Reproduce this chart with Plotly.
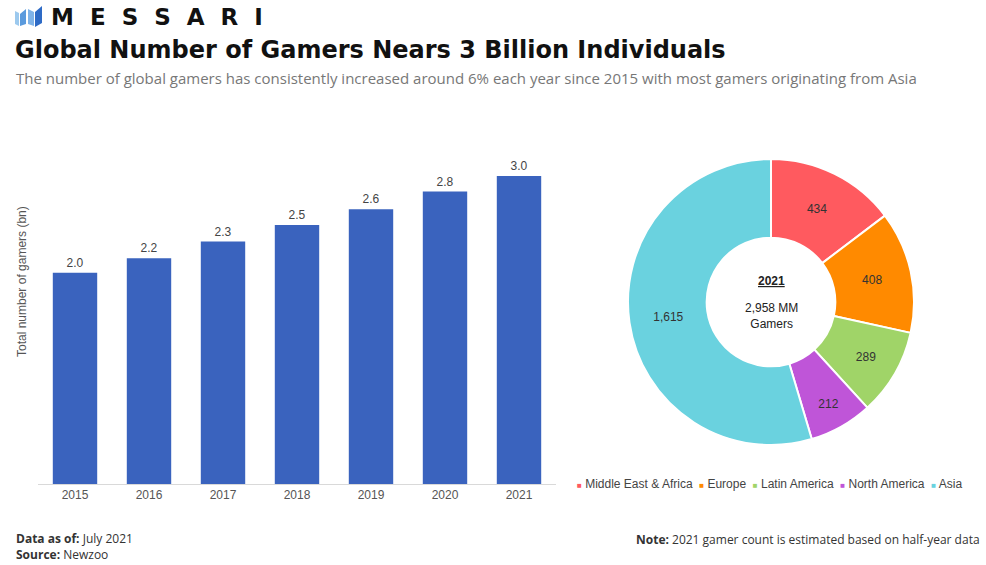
import plotly.graph_objects as go

W, H = 986, 565

# bar chart data (billions of gamers)
years = ['2015', '2016', '2017', '2018', '2019', '2020', '2021']
gamers_bn = [2.03, 2.17, 2.33, 2.49, 2.64, 2.81, 2.96]

# donut data (millions of gamers, 2021)
regions = ['Middle East & Africa', 'Europe', 'Latin America', 'North America', 'Asia']
region_mm = [434, 408, 289, 212, 1615]
region_colors = ['#FF5A5F', '#FF8A00', '#A0D468', '#BF55D8', '#6AD2DF']

def px(x):
    return x / W

def py(y):
    return 1 - y / H

fig = go.Figure()

fig.add_trace(go.Bar(
    x=years, y=gamers_bn,
    marker=dict(color='#3A63BE', line=dict(width=0)),
    texttemplate='%{y:.1f}', textposition='outside', cliponaxis=False,
    textfont=dict(family='Liberation Sans, Arial', size=12, color='#444'),
    showlegend=False,
))

fig.add_trace(go.Pie(
    labels=regions, values=region_mm,
    marker=dict(colors=region_colors, line=dict(color='white', width=2)),
    hole=0.45, sort=False, direction='clockwise', rotation=0,
    texttemplate='%{value:,}', textposition='inside',
    insidetextorientation='horizontal',
    textfont=dict(family='Liberation Sans, Arial', size=12, color='#333'),
    domain=dict(x=[px(628), px(914)], y=[py(445), py(159)]),
    showlegend=False,
))

fig.update_layout(
    width=W, height=H,
    margin=dict(l=0, r=0, t=0, b=0, autoexpand=False),
    paper_bgcolor='white', plot_bgcolor='white',
    bargap=0.4,
    xaxis=dict(domain=[px(38), px(556)], showgrid=False, showline=True,
               linecolor='#d9d9d9', linewidth=1, ticks='',
               tickfont=dict(family='Liberation Sans, Arial', size=12, color='#555')),
    yaxis=dict(domain=[py(484), py(151)], range=[0, 3.2], showgrid=False,
               showticklabels=False, zeroline=False, showline=False),
    font=dict(family='Open Sans'),
)

# legend drawn as a text row under the donut
legend_txt = '  '.join(
    f'<span style="color:{c};font-size:8px">■</span> {r}' for r, c in zip(regions, region_colors))

ann = [
    dict(x=px(13), y=py(50), text='<b>Global Number of Gamers Nears 3 Billion Individuals</b>',
         font=dict(family='DejaVu Sans', size=24, color='#111'), xanchor='left'),
    dict(x=px(14), y=py(78),
         text='The number of global gamers has consistently increased around 6% each year since 2015 with most gamers originating from Asia',
         font=dict(family='Open Sans', size=15, color='#777'), xanchor='left'),
    dict(x=px(49), y=py(17), text='<b>M  E  S  S  A  R  I</b>',
         font=dict(family='DejaVu Sans', size=23, color='#111'), xanchor='left'),
    dict(x=px(22), y=py(282), text='Total number of gamers (bn)', textangle=-90,
         font=dict(family='Liberation Sans, Arial', size=12, color='#555'), xanchor='center'),
    dict(x=px(771), y=py(281), text='<b><u>2021</u></b>',
         font=dict(family='Liberation Sans, Arial', size=12, color='#222'), xanchor='center'),
    dict(x=px(771), y=py(316), text='2,958 MM<br>Gamers',
         font=dict(family='Liberation Sans, Arial', size=12, color='#222'), xanchor='center'),
    dict(x=px(575), y=py(484), text=legend_txt, xanchor='left',
         font=dict(family='Liberation Sans, Arial', size=12, color='#444')),
    dict(x=px(14), y=py(546), text='<b>Data as of:</b> July 2021<br><b>Source:</b> Newzoo',
         font=dict(family='Open Sans', size=12, color='#333'), xanchor='left', align='left'),
    dict(x=px(982), y=py(539), text='<b>Note:</b> 2021 gamer count is estimated based on half-year data',
         font=dict(family='Open Sans', size=12, color='#333'), xanchor='right'),
]
for a in ann:
    a.setdefault('yanchor', 'middle')
    a.update(xref='paper', yref='paper', showarrow=False)
fig.update_layout(annotations=ann)

# logo mark
logo = [
    ('#9CC9EE', [(15, 11), (19, 13), (19, 26), (15, 24)]),
    ('#5A9ADD', [(20, 14), (26, 9), (26, 24), (20, 26)]),
    ('#7FB3E8', [(28, 9), (34, 12), (34, 26), (28, 24)]),
    ('#2E6BC6', [(35, 12), (42, 6), (42, 23), (35, 27)]),
]
for col, pts in logo:
    path = 'M ' + ' L '.join(f'{px(x)} {py(y)}' for x, y in pts) + ' Z'
    fig.add_shape(type='path', path=path, xref='paper', yref='paper',
                  fillcolor=col, line=dict(width=0))

# drop the default page margin so the figure fills the window
fig.write_html('out.html', config={'displayModeBar': False},
               post_script="document.body.style.margin='0';")
